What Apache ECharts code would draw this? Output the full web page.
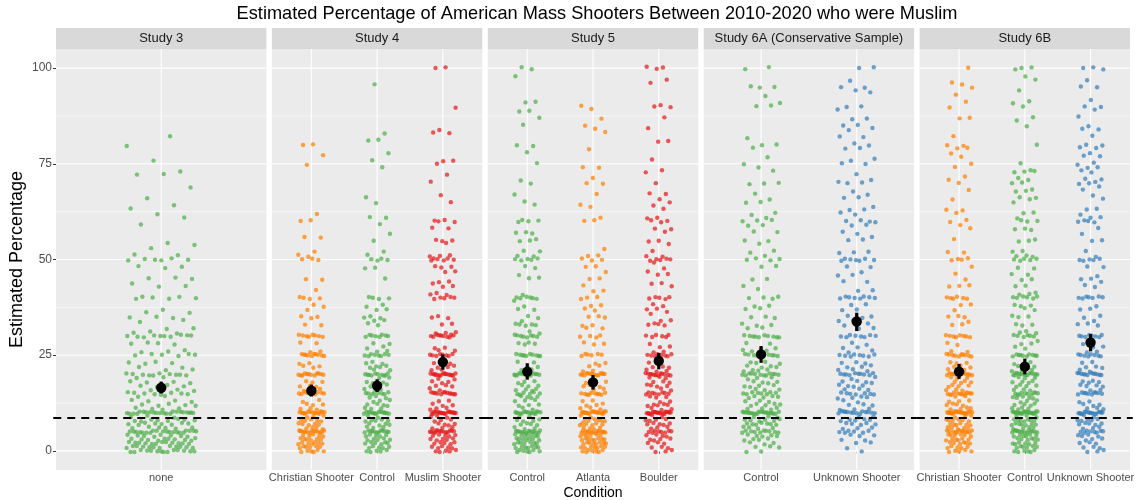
<!DOCTYPE html>
<html><head><meta charset="utf-8">
<script src="https://cdn.jsdelivr.net/npm/echarts@6/dist/echarts.min.js"></script>
<style>html,body{margin:0;padding:0;background:#fff}#c{width:1136px;height:500px}</style>
</head><body><div id="c"></div>
<script>
// ---------------- DATA ----------------
const chartTitle = 'Estimated Percentage of American Mass Shooters Between 2010-2020 who were Muslim';
const studies = ['Study 3', 'Study 4', 'Study 5', 'Study 6A (Conservative Sample)', 'Study 6B'];
const conditions = [
  ['none'],
  ['Christian Shooter', 'Control', 'Muslim Shooter'],
  ['Control', 'Atlanta', 'Boulder'],
  ['Control', 'Unknown Shooter'],
  ['Christian Shooter', 'Control', 'Unknown Shooter']
];
const yTicks = [0, 25, 50, 75, 100];
const yMinorTicks = [12.5, 37.5, 62.5, 87.5];
const referenceLine = 8.6;

// responses, as [estimated percentage, number of respondents]
const s3None = [[0,14],[1,12],[2,12],[3,10],[4,8],[5,20],[6,6],[7,8],[8,8],[9,3],[10,22],[11,4],[12,5],[13,4],[14,2],[15,8],[16,3],[17,4],[18,4],[19,2],[20,10],[21,2],[22,2],[23,4],[25,6],[26,3],[28,4],[30,10],[31,3],[32,2],[34,2],[35,3],[36,2],[37,1],[40,6],[43,2],[44,1],[45,3],[48,3],[50,6],[51,2],[53,1],[54,2],[59,1],[61,1],[62,1],[63,1],[64,1],[66,1],[69,1],[72,2],[73,1],[76,1],[80,1],[82,1]];
const s4Christian = [[0,6],[1,6],[2,7],[3,6],[4,5],[5,14],[6,4],[7,5],[8,5],[9,3],[10,15],[11,3],[12,3],[13,2],[15,10],[16,3],[17,3],[18,3],[20,12],[22,3],[23,2],[25,10],[26,2],[28,2],[30,8],[33,2],[35,3],[37,1],[38,2],[40,4],[42,1],[45,2],[50,3],[51,2],[52,1],[56,2],[60,2],[62,1],[75,1],[77,1],[80,2]];
const s4Control = [[0,5],[1,5],[2,6],[3,5],[4,5],[5,12],[6,3],[7,4],[8,5],[9,2],[10,15],[11,3],[12,4],[13,3],[14,3],[15,8],[16,2],[17,3],[18,3],[19,2],[20,10],[21,2],[22,4],[23,3],[25,8],[26,2],[27,2],[28,2],[30,8],[33,2],[34,2],[35,3],[37,2],[38,2],[40,4],[45,1],[48,2],[50,4],[51,1],[52,1],[55,1],[57,1],[59,1],[61,2],[65,1],[66,1],[74,1],[76,1],[78,1],[81,2],[83,1],[96,1]];
const s4Muslim = [[0,5],[1,5],[2,5],[3,5],[4,5],[5,14],[6,3],[7,4],[8,3],[9,3],[10,18],[11,3],[12,3],[13,2],[15,12],[16,2],[17,3],[18,3],[19,2],[20,16],[21,2],[22,3],[23,3],[25,8],[26,2],[27,2],[30,10],[31,3],[33,2],[35,3],[40,5],[41,3],[43,2],[44,3],[47,2],[48,3],[50,6],[51,3],[54,1],[55,3],[58,2],[60,4],[65,1],[67,1],[70,1],[72,1],[75,1],[76,2],[83,2],[84,1],[90,1],[100,2]];
const s5Control = [[0,7],[1,7],[2,7],[3,7],[4,7],[5,14],[6,3],[7,4],[8,4],[9,2],[10,16],[11,2],[12,3],[13,3],[14,4],[15,6],[16,4],[17,3],[18,3],[20,14],[21,2],[22,2],[23,2],[25,10],[28,4],[30,8],[31,2],[33,5],[34,1],[35,2],[37,2],[38,1],[39,1],[40,6],[41,1],[45,2],[46,1],[48,2],[50,5],[51,2],[52,2],[55,3],[57,3],[60,4],[64,1],[65,1],[67,1],[70,1],[71,1],[75,1],[78,1],[80,2],[85,1],[87,1],[89,2],[91,2],[98,1],[100,2]];
const s5Atlanta = [[0,7],[1,7],[2,8],[3,8],[4,6],[5,14],[6,4],[7,6],[8,6],[9,2],[10,18],[11,3],[12,3],[13,2],[15,10],[16,2],[17,3],[18,3],[20,14],[21,2],[22,2],[23,2],[25,6],[28,3],[30,4],[32,2],[33,2],[35,3],[37,2],[38,2],[40,3],[42,2],[43,1],[45,2],[47,1],[48,2],[50,3],[51,2],[53,1],[60,2],[61,1],[64,2],[67,1],[70,2],[71,1],[74,2],[79,1],[83,1],[84,1],[85,1],[87,1],[89,1],[90,1]];
const s5Boulder = [[0,3],[1,3],[2,3],[3,4],[4,4],[5,8],[6,3],[7,5],[8,4],[9,2],[10,18],[11,3],[12,5],[13,2],[14,3],[15,8],[16,2],[17,4],[18,3],[19,3],[20,12],[21,3],[22,3],[23,2],[25,8],[26,2],[27,2],[28,1],[30,6],[33,4],[34,2],[36,2],[37,2],[38,2],[40,5],[43,1],[44,2],[46,2],[47,1],[48,1],[49,1],[50,5],[51,2],[52,1],[54,1],[55,2],[57,1],[58,2],[60,3],[61,2],[63,1],[64,1],[65,1],[66,1],[67,2],[70,1],[73,2],[76,1],[81,2],[84,1],[87,1],[90,3],[96,1],[97,1],[100,3]];
const s6aControl = [[0,2],[1,3],[2,3],[3,4],[4,5],[5,10],[6,4],[7,7],[8,6],[9,3],[10,20],[11,4],[12,5],[13,3],[14,5],[15,8],[16,3],[17,4],[18,4],[19,3],[20,12],[21,4],[22,4],[23,4],[25,10],[26,3],[27,2],[28,2],[30,10],[32,2],[33,3],[35,3],[37,2],[38,2],[40,4],[42,1],[43,1],[45,2],[48,2],[50,4],[51,1],[52,2],[54,1],[55,2],[57,2],[59,2],[60,3],[61,1],[62,2],[65,2],[66,1],[67,1],[70,3],[73,1],[74,1],[75,1],[77,1],[79,1],[80,2],[82,1],[90,2],[91,1],[93,1],[95,3],[100,2]];
const s6aUnknown = [[0,1],[1,1],[2,2],[3,2],[4,3],[5,6],[6,3],[7,5],[8,5],[9,2],[10,14],[11,3],[12,3],[13,2],[14,4],[15,7],[16,3],[17,4],[18,4],[19,2],[20,10],[21,3],[22,3],[23,3],[25,8],[26,2],[27,2],[28,2],[30,8],[32,2],[33,2],[34,2],[35,3],[37,2],[38,2],[40,8],[42,2],[44,2],[46,2],[47,1],[48,2],[50,7],[52,3],[55,2],[56,1],[57,2],[59,2],[60,4],[62,2],[63,2],[64,1],[66,2],[67,1],[68,1],[70,3],[71,1],[72,1],[75,2],[76,2],[79,2],[80,2],[82,2],[84,2],[85,2],[87,2],[89,1],[90,2],[94,2],[95,2],[97,1],[100,2]];
const s6bChristian = [[0,5],[1,5],[2,6],[3,6],[4,6],[5,12],[6,5],[7,6],[8,6],[9,3],[10,20],[11,4],[12,4],[13,3],[14,2],[15,12],[16,3],[17,4],[18,4],[19,3],[20,12],[21,3],[22,3],[23,3],[25,10],[26,2],[28,2],[30,8],[33,2],[34,1],[35,3],[37,1],[38,2],[40,6],[43,3],[45,1],[46,1],[48,1],[50,4],[52,2],[55,1],[58,1],[59,1],[60,2],[62,1],[63,2],[66,1],[68,1],[70,1],[71,1],[72,1],[74,1],[75,1],[77,1],[78,1],[79,2],[80,2],[82,1],[87,2],[90,1],[91,1],[93,1],[95,1],[96,2],[100,1]];
const s6bControl = [[0,6],[1,6],[2,6],[3,6],[4,6],[5,14],[6,4],[7,7],[8,7],[9,3],[10,22],[11,4],[12,4],[13,3],[14,5],[15,10],[16,3],[17,4],[18,4],[19,3],[20,14],[21,3],[22,3],[23,3],[25,10],[27,2],[28,2],[29,1],[30,6],[31,3],[33,3],[35,3],[37,2],[38,3],[40,6],[41,3],[43,2],[45,2],[46,2],[48,2],[50,5],[51,3],[52,2],[55,3],[58,3],[60,3],[61,1],[62,2],[65,1],[66,3],[68,3],[70,2],[71,2],[73,4],[75,1],[80,1],[85,1],[86,1],[87,1],[90,1],[91,2],[94,1],[97,1],[98,1],[100,3]];
const s6bUnknown = [[0,3],[1,3],[2,3],[3,3],[4,4],[5,8],[6,3],[7,5],[8,5],[9,2],[10,16],[11,3],[12,3],[13,2],[15,10],[16,2],[17,4],[18,4],[20,12],[21,2],[22,3],[23,2],[25,8],[26,2],[27,2],[28,1],[30,8],[33,3],[34,1],[35,2],[37,2],[38,1],[40,7],[43,2],[44,1],[45,2],[46,1],[48,2],[50,5],[51,1],[52,1],[55,2],[57,1],[58,1],[60,4],[61,2],[62,1],[63,2],[66,1],[67,1],[68,1],[69,1],[70,3],[71,2],[73,2],[74,2],[75,2],[77,2],[78,1],[79,2],[80,2],[82,1],[84,2],[85,1],[87,1],[89,1],[90,2],[92,1],[95,2],[97,1],[100,3]];

const responses = [
  [s3None],
  [s4Christian, s4Control, s4Muslim],
  [s5Control, s5Atlanta, s5Boulder],
  [s6aControl, s6aUnknown],
  [s6bChristian, s6bControl, s6bUnknown]
];
// group means with 95% CI
const means  = [[16.5], [15.7, 17.0, 23.2], [20.7, 17.9, 23.5], [25.2, 33.8], [20.7, 22.0, 28.3]];
const ciLow  = [[15.0], [14.2, 15.4, 21.2], [18.6, 16.0, 21.3], [23.0, 31.3], [18.8, 20.0, 26.0]];
const ciHigh = [[18.1], [17.3, 18.7, 25.2], [22.9, 19.8, 25.6], [27.4, 36.1], [22.7, 24.1, 30.5]];

// ---------------- STYLE ----------------
const condColor = {
  'none': '#4DAF4A', 'Control': '#4DAF4A',
  'Christian Shooter': '#FF7F00', 'Atlanta': '#FF7F00',
  'Muslim Shooter': '#E41A1C', 'Boulder': '#E41A1C',
  'Unknown Shooter': '#377EB8'
};
const FONT = '"Liberation Sans", Arial, sans-serif';
const panelLeft = 56, panelRight = 1130, panelGap = 5.5, panelTop = 49, panelBottom = 470;
const panelW = (panelRight - panelLeft - panelGap * 4) / 5;

const chart = echarts.init(document.getElementById('c'), null, {renderer: 'canvas'});

const grids = [], xAxes = [], yAxes = [], series = [], graphics = [];

function frac(v) { return v - Math.floor(v); }

function gridLineRender(params, api) {
  const cs = params.coordSys;
  const kind = api.value(2);
  if (kind === 2) {
    const p = api.coord([api.value(0), 50]);
    return {type: 'line', silent: true, shape: {x1: p[0], y1: cs.y, x2: p[0], y2: cs.y + cs.height},
      style: {stroke: '#FFFFFF', lineWidth: 1.1}};
  }
  const p = api.coord([api.value(0), api.value(1)]);
  return {type: 'line', silent: true, shape: {x1: cs.x, y1: p[1], x2: cs.x + cs.width, y2: p[1]},
    style: {stroke: '#FFFFFF', lineWidth: kind === 0 ? 1.1 : 0.55}};
}
function refLineRender(params, api) {
  const cs = params.coordSys;
  const p = api.coord([api.value(0), api.value(1)]);
  return {type: 'line', silent: true, shape: {x1: cs.x - 2.75, y1: p[1], x2: cs.x + cs.width + 2.75, y2: p[1]},
    style: {stroke: '#000000', lineWidth: 2, lineDash: [8, 6]}};
}
function errRender(params, api) {
  const x = api.value(0);
  const lo = api.coord([x, api.value(1)]);
  const hi = api.coord([x, api.value(2)]);
  const m = api.coord([x, api.value(3)]);
  return {type: 'group', children: [
    {type: 'line', shape: {x1: lo[0], y1: lo[1], x2: hi[0], y2: hi[1]}, style: {stroke: '#000', lineWidth: 3.2}},
    {type: 'circle', shape: {cx: m[0], cy: m[1], r: 5.2}, style: {fill: '#000'}}
  ]};
}

studies.forEach((study, i) => {
  const conds = conditions[i];
  const n = conds.length;
  const left = panelLeft + i * (panelW + panelGap);
  const centers = conds.map((c, j) => j + 1);
  grids.push({left: left, width: panelW, top: panelTop, height: panelBottom - panelTop,
    show: true, backgroundColor: '#EBEBEB', borderWidth: 0, containLabel: false, outerBoundsMode: 'none'});
  xAxes.push({
    gridIndex: i, type: 'value', min: 0.4, max: n + 0.6,
    axisLine: {show: false}, splitLine: {show: false},
    axisTick: {show: true, customValues: centers, length: 3, lineStyle: {color: '#333333', width: 1}},
    axisLabel: {show: true, customValues: centers, formatter: v => conds[Math.round(v) - 1] || '',
      color: '#4D4D4D', fontSize: 11, margin: 2.5, fontFamily: FONT},
    name: i === 2 ? 'Condition' : '', nameLocation: 'middle', nameGap: 16, nameMoveOverlap: false,
    nameTextStyle: {fontSize: 14, color: '#000', fontFamily: FONT}
  });
  yAxes.push({
    gridIndex: i, type: 'value', min: -5, max: 105,
    axisLine: {show: false}, splitLine: {show: false},
    axisTick: {show: i === 0, customValues: yTicks, length: 3, lineStyle: {color: '#333333'}},
    axisLabel: {show: i === 0, customValues: yTicks, color: '#4D4D4D', fontSize: 12, margin: 4, fontFamily: FONT},
    name: i === 0 ? 'Estimated Percentage' : '', nameLocation: 'middle', nameGap: 30, nameMoveOverlap: false,
    nameTextStyle: {fontSize: 18, color: '#000', fontFamily: FONT}
  });

  // background grid lines
  const gl = [];
  yTicks.forEach(v => gl.push([1, v, 0]));
  yMinorTicks.forEach(v => gl.push([1, v, 1]));
  centers.forEach(c => gl.push([c, 50, 2]));
  series.push({type: 'custom', xAxisIndex: i, yAxisIndex: i, z: 1, silent: true,
    renderItem: gridLineRender, data: gl, encode: {x: 0, y: 1}});

  // jittered responses
  conds.forEach((cond, j) => {
    const pts = [];
    let k = 0;
    responses[i][j].forEach(([val, cnt]) => {
      for (let r = 0; r < cnt; r++) {
        const jx = (2 * frac(0.5 + k * 0.6180339887 + j * 0.13) - 1) * 0.2;
        const jy = (2 * frac(0.3 + k * 0.7548776662) - 1) * 0.35;
        pts.push([centers[j] + jx, val + jy]);
        k++;
      }
    });
    series.push({type: 'scatter', name: study + ' - ' + cond, xAxisIndex: i, yAxisIndex: i, z: 2,
      symbol: 'circle', symbolSize: 4.4, data: pts, silent: true,
      itemStyle: {color: condColor[cond], opacity: 0.72}});
  });

  // reference line
  series.push({type: 'custom', xAxisIndex: i, yAxisIndex: i, z: 3, silent: true,
    renderItem: refLineRender, data: [[1, referenceLine]], encode: {x: 0, y: 1}});

  // means and CIs
  series.push({type: 'custom', xAxisIndex: i, yAxisIndex: i, z: 4, silent: true,
    renderItem: errRender,
    data: conds.map((c, j) => [centers[j], ciLow[i][j], ciHigh[i][j], means[i][j]]),
    encode: {x: 0, y: [1, 2, 3]}});

  // facet strip
  graphics.push({type: 'rect', left: left, top: 28, shape: {width: panelW, height: 21}, style: {fill: '#D9D9D9'}, silent: true});
  graphics.push({type: 'text', x: left + panelW / 2, y: 38.5, silent: true,
    style: {text: study, fill: '#1A1A1A', font: '13px ' + FONT, textAlign: 'center', textVerticalAlign: 'middle'}});
});

graphics.push({type: 'text', x: 597, y: 14, silent: true,
  style: {text: chartTitle, fill: '#000', font: '18.2px ' + FONT, textAlign: 'center', textVerticalAlign: 'middle'}});

chart.setOption({
  animation: false,
  backgroundColor: '#FFFFFF',
  textStyle: {fontFamily: FONT},
  grid: grids, xAxis: xAxes, yAxis: yAxes, series: series, graphic: graphics,
  tooltip: {show: false}
});
</script></body></html>
